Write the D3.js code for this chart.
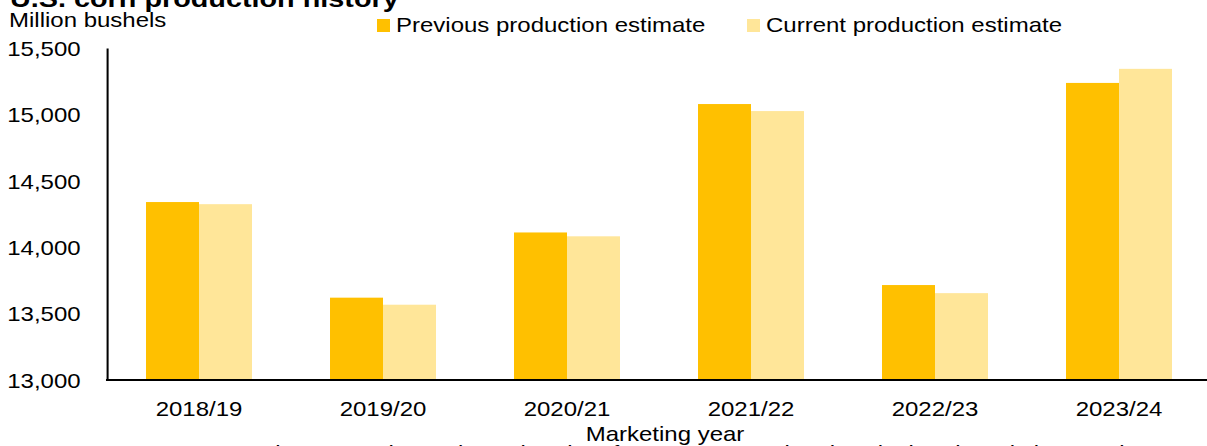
<!DOCTYPE html>
<html>
<head>
<meta charset="utf-8">
<script src="https://cdn.jsdelivr.net/npm/d3@7"></script>
<style>
  html, body { margin: 0; padding: 0; background: #fff; overflow: hidden; }
  svg { display: block; }
  text { font-family: "Liberation Sans", Arial, sans-serif; fill: #000; }
</style>
</head>
<body>
<svg id="chart"></svg>
<script>
// ---- data ----
const categories = ["2018/19", "2019/20", "2020/21", "2021/22", "2022/23", "2023/24"];
const seriesNames = ["Previous production estimate", "Current production estimate"];
const previousEstimate = [14340, 13620, 14111, 15078, 13715, 15237];
const currentEstimate  = [14324, 13567, 14082, 15025, 13654, 15343];
const yTicks = [13000, 13500, 14000, 14500, 15000, 15500];
const colors = ["#FFC000", "#FFE699"];

// ---- layout (drawn in a horizontally stretched coordinate system) ----
const W = 1207, H = 446, SX = 1.2;
const VW = W / SX;
const svg = d3.select("#chart")
  .attr("width", W).attr("height", H)
  .attr("viewBox", `0 0 ${VW} ${H}`)
  .attr("preserveAspectRatio", "none");

const plotLeft = 107 / SX, plotRight = 1211 / SX, plotTop = 48, plotBottom = 380;

const y = d3.scaleLinear().domain([13000, 15500]).range([plotBottom, plotTop]);
const x0 = d3.scaleBand().domain(categories).range([plotLeft, plotRight])
  .paddingInner(0.424).paddingOuter(0.212);
const x1 = d3.scaleBand().domain(seriesNames).range([0, x0.bandwidth()]).padding(0);

const rows = categories.map((c, i) => ({ cat: c, vals: [previousEstimate[i], currentEstimate[i]] }));

// bars
const g = svg.append("g");
g.selectAll("g.grp").data(rows).join("g")
  .attr("class", "grp")
  .attr("transform", d => `translate(${x0(d.cat)},0)`)
  .selectAll("rect").data(d => d.vals.map((v, k) => ({ v, k })))
  .join("rect")
  .attr("x", d => x1(seriesNames[d.k]))
  .attr("width", x1.bandwidth())
  .attr("y", d => y(d.v))
  .attr("height", d => y(13000) - y(d.v))
  .attr("fill", d => colors[d.k]);

// y axis
const yAxis = svg.append("g")
  .attr("transform", `translate(${plotLeft},0)`)
  .call(d3.axisLeft(y).tickValues(yTicks).tickFormat(d3.format(",")).tickSize(0).tickPadding(22));
yAxis.select(".domain").attr("stroke", "#000").attr("stroke-width", 1.7);
yAxis.selectAll("text").attr("font-size", 20).attr("dy", "0.36em")
  .style("font-family", '"Liberation Sans", Arial, sans-serif').attr("fill", "#000");

// x axis
const xAxis = svg.append("g")
  .attr("transform", `translate(0,${plotBottom})`)
  .call(d3.axisBottom(x0).tickSize(0).tickSizeOuter(0).tickPadding(21.8));
xAxis.select(".domain").attr("stroke", "#000").attr("stroke-width", 2)
  .attr("d", `M${plotLeft - 0.85},0H${VW + 10}`);
xAxis.selectAll("text").attr("font-size", 20)
  .style("font-family", '"Liberation Sans", Arial, sans-serif').attr("fill", "#000");

// title & labels
svg.append("text").attr("x", 10 / SX).attr("y", 7)
  .attr("font-size", 24).attr("font-weight", "bold")
  .text("U.S. corn production history");
svg.append("text").attr("x", 9 / SX).attr("y", 27)
  .attr("font-size", 20).text("Million bushels");
svg.append("text").attr("x", 665 / SX).attr("y", 441)
  .attr("font-size", 20).attr("text-anchor", "middle").text("Marketing year");
svg.append("text").attr("x", 18 / SX).attr("y", 460)
  .attr("font-size", 20).attr("fill", "#595959")
  .text("Source: USDA, Economic Research Service using data from USDA, National Agricultural Statistics Service, Crop Production.");

// legend
const legendX = [377 / SX, 747 / SX];
const lg = svg.append("g").selectAll("g").data(seriesNames).join("g")
  .attr("transform", (d, i) => `translate(${legendX[i]},0)`);
lg.append("rect").attr("x", 0).attr("y", 19).attr("width", 13 / SX).attr("height", 13)
  .attr("fill", (d, i) => colors[i]);
lg.append("text").attr("x", 19 / SX).attr("y", 32).attr("font-size", 20).text(d => d);
</script>
</body>
</html>
